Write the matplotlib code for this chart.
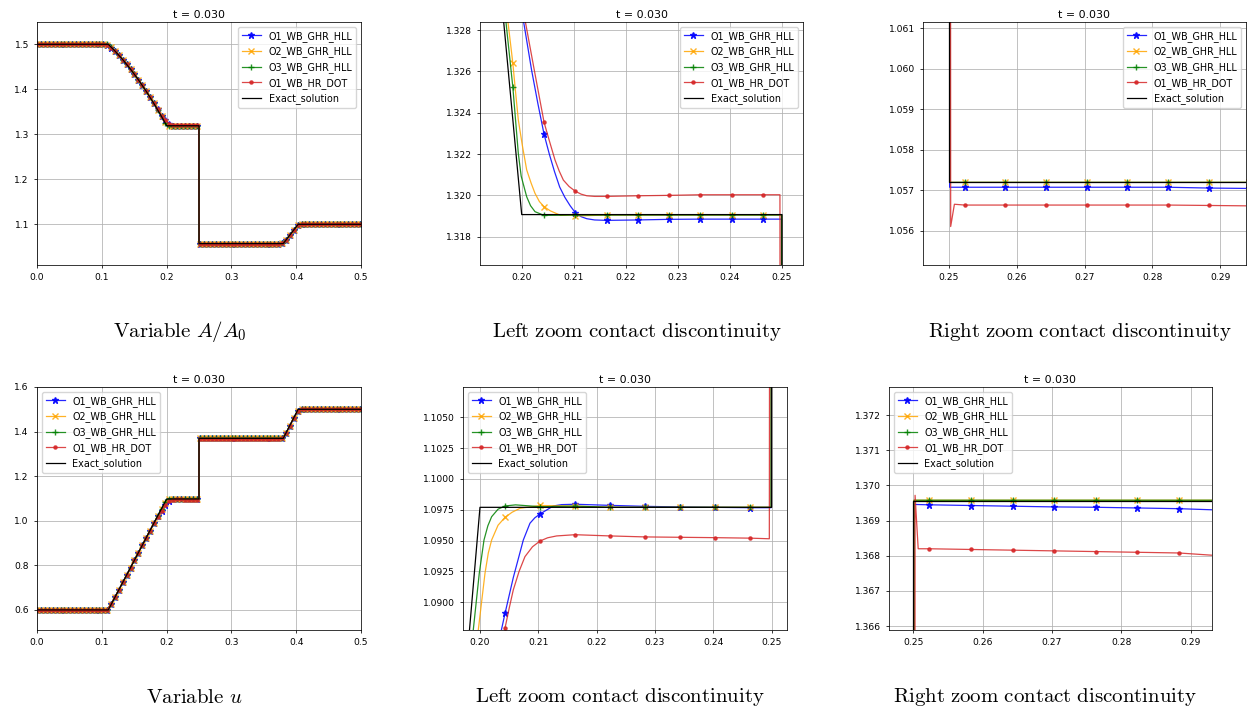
import numpy as np
import matplotlib.pyplot as plt

plt.rcParams['mathtext.fontset'] = 'cm'
plt.rcParams['font.size'] = 6.6
plt.rcParams['axes.titlesize'] = 7.9
plt.rcParams['axes.linewidth'] = 0.55
plt.rcParams['grid.linewidth'] = 0.55
plt.rcParams['xtick.major.size'] = 2.3
plt.rcParams['ytick.major.size'] = 2.3
plt.rcParams['xtick.major.width'] = 0.55
plt.rcParams['ytick.major.width'] = 0.55
plt.rcParams['legend.fontsize'] = 6.9

# positions of the plotted markers (every 6th output cell)
x_mark = 0.0003 + 0.006 * np.arange(84)

# ---------------- area ratio A/A0 ----------------
A_fan = [1.4759, 1.4661, 1.4557, 1.4449, 1.4335, 1.4216, 1.4091, 1.3962, 1.3827, 1.3687]
A_rise = [1.0650, 1.0762, 1.0873, 1.0980, 1.0998]

A_o1 = np.r_[[1.5] * 18, 1.4985, 1.4925, 1.4842, A_fan,
             1.3556, 1.3415, 1.3318, 1.32295, 1.31916, 1.31879, 1.31881, 1.31884, 1.31885, 1.31885, 1.31885,
             [1.05708] * 6, 1.05706, [1.05705] * 14, 1.0578, A_rise, [1.1] * 15]
A_o2 = np.r_[[1.5] * 18, 1.4993, 1.4935, 1.4850, A_fan,
             1.3546, 1.3405, 1.32639, 1.31945, 1.31900, [1.31905] * 6,
             [1.0572] * 21, 1.0576, A_rise, [1.1] * 15]
A_o3 = np.r_[[1.5] * 18, 1.4996, 1.4938, 1.4851, A_fan,
             1.3544, 1.3400, 1.32523, 1.31903, 1.31905, [1.31905] * 6,
             [1.0572] * 21, 1.0575, A_rise, [1.1] * 15]
A_dot = np.r_[[1.5] * 18, 1.4985, 1.4925, 1.4842, A_fan,
              1.3558, 1.3418, 1.3320, 1.32353, 1.32020, 1.31995, 1.31998, 1.32000, 1.32003, 1.32003, 1.32003,
              [1.05664] * 6, 1.05663, [1.05662] * 14, 1.0574, A_rise, [1.1] * 15]

# extra output cells between the markers (end of the fan and the contact)
A_o1_xe = [0.2003, 0.2019, 0.2031, 0.2053, 0.2063, 0.2073, 0.2083, 0.2093,
           0.2114, 0.2125, 0.2140, 0.2499, 0.2501]
A_o1_ye = [1.3285, 1.32606, 1.32445, 1.32200, 1.32115, 1.32040, 1.31990, 1.31950,
           1.31897, 1.31887, 1.31881, 1.31885, 1.05708]
A_o2_xe = [0.19731, 0.1988, 0.19935, 0.2001, 0.20096, 0.2018, 0.20255, 0.2034,
           0.2055, 0.2075, 0.2095, 0.2499, 0.2501]
A_o2_ye = [1.3285, 1.32505, 1.32365, 1.32245, 1.32123, 1.32060, 1.3201, 1.3197,
           1.31925, 1.31903, 1.31905, 1.31905, 1.0572]
A_o3_xe = [0.19693, 0.1988, 0.19935, 0.1999, 0.20096, 0.2017, 0.20256, 0.2499, 0.2501]
A_o3_ye = [1.3285, 1.3237, 1.32203, 1.32093, 1.31993, 1.3195, 1.31921, 1.31905, 1.0572]
A_dot_xe = [0.20063, 0.2025, 0.2053, 0.2064, 0.2072, 0.2080, 0.2091, 0.2114, 0.2125,
            0.2140, 0.2496, 0.25025, 0.2508]
A_dot_ye = [1.3285, 1.32595, 1.32265, 1.32171, 1.32118, 1.32074, 1.32043, 1.32006, 1.31998,
            1.31995, 1.32003, 1.05611, 1.05666]

A_ex_x = [0.0, 0.11, 0.1203, 0.1323, 0.1443, 0.1563, 0.1683, 0.1803, 0.1923, 0.1965, 0.2,
          0.25, 0.25, 0.38, 0.403, 0.5]
A_ex_y = [1.5, 1.5, 1.4852, 1.4661, 1.4449, 1.4216, 1.3962, 1.3687, 1.3392, 1.3285, 1.31907,
          1.31907, 1.0572, 1.0572, 1.1, 1.1]

# ---------------- velocity u ----------------
u_fan = [0.6901, 0.7233, 0.7565, 0.7897, 0.8229, 0.8560, 0.8892, 0.9224, 0.9556, 0.9888]
u_rise = [1.3930, 1.4270, 1.4610, 1.4935, 1.4995]

u_o1 = np.r_[[0.6] * 18, 0.6010, 0.6265, 0.6585, u_fan,
             1.0195, 1.0460, 1.0705, 1.08911, 1.09716, 1.09795, 1.09786, 1.09778, 1.09773, 1.09770, 1.09767,
             1.36945, 1.36943, 1.36941, 1.36939, 1.36938, 1.36936, 1.36934, [1.3693] * 14,
             1.3712, u_rise, [1.5] * 15]
u_o2 = np.r_[[0.6] * 18, 0.6004, 0.6250, 0.6575, u_fan,
             1.0217, 1.0540, 1.0814, 1.09689, 1.09785, 1.0978, [1.0977] * 5,
             [1.36958] * 21, 1.3708, u_rise, [1.5] * 15]
u_o3 = np.r_[[0.6] * 18, 0.6002, 0.6245, 0.6572, u_fan,
             1.0219, 1.0548, 1.0850, 1.09781, 1.09775, 1.0978, [1.0977] * 5,
             [1.36958] * 21, 1.3708, u_rise, [1.5] * 15]
u_dot = np.r_[[0.6] * 18, 0.6010, 0.6265, 0.6585, u_fan,
              1.0190, 1.0450, 1.0700, 1.08792, 1.09497, 1.09548, 1.09538, 1.09530, 1.09527, 1.09524, 1.09520,
              1.36820, 1.36818, 1.36816, 1.36814, 1.36812, 1.36810, 1.36808, [1.3680] * 14,
              1.3700, u_rise, [1.5] * 15]

u_o1_xe = [0.2009, 0.20355, 0.20571, 0.20743, 0.20857, 0.2094, 0.21257, 0.2140, 0.2499, 0.2501]
u_o1_ye = [1.0795, 1.08749, 1.0920, 1.09505, 1.09641, 1.09685, 1.09781, 1.09792, 1.09767, 1.36946]
u_o2_xe = [0.19971, 0.20086, 0.20143, 0.20200, 0.2031, 0.2055, 0.20686, 0.2499, 0.2501]
u_o2_ye = [1.08775, 1.09235, 1.0940, 1.09505, 1.09625, 1.0973, 1.09762, 1.0977, 1.36958]
u_o3_xe = [0.19885, 0.19988, 0.20069, 0.20135, 0.20200, 0.2031, 0.2061, 0.2499, 0.2501]
u_o3_ye = [1.08775, 1.09235, 1.09505, 1.0962, 1.09694, 1.09755, 1.0979, 1.0977, 1.36958]
u_dot_xe = [0.2013, 0.2050, 0.20571, 0.2067, 0.20771, 0.2090, 0.2116, 0.21314,
            0.2496, 0.25025, 0.2507]
u_dot_ye = [1.0797, 1.0895, 1.0910, 1.0925, 1.0937, 1.0945, 1.09523, 1.09538,
            1.09515, 1.36972, 1.36820]

u_ex_x = [0.0, 0.11, 0.2, 0.25, 0.25, 0.38, 0.403, 0.5]
u_ex_y = [0.6, 0.6, 1.0977, 1.0977, 1.36957, 1.36957, 1.5, 1.5]

labels = ['O1_WB_GHR_HLL', 'O2_WB_GHR_HLL', 'O3_WB_GHR_HLL', 'O1_WB_HR_DOT']
colors = ['blue', 'orange', 'green', 'tab:red']
markers = ['*', 'x', '+', '.']
msizes = [4.5, 5, 5, 4.5]

schemes_A = [(A_o1, A_o1_xe, A_o1_ye), (A_o2, A_o2_xe, A_o2_ye),
             (A_o3, A_o3_xe, A_o3_ye), (A_dot, A_dot_xe, A_dot_ye)]
schemes_u = [(u_o1, u_o1_xe, u_o1_ye), (u_o2, u_o2_xe, u_o2_ye),
             (u_o3, u_o3_xe, u_o3_ye), (u_dot, u_dot_xe, u_dot_ye)]


def merge(ym, xe, ye):
    # put marker cells and extra cells together, remember where the markers are
    x = np.concatenate([x_mark, xe])
    y = np.concatenate([ym, ye])
    order = np.argsort(x, kind='stable')
    marks = np.flatnonzero(order < len(x_mark))
    return x[order], y[order], list(marks)


def panel(ax, schemes, ex_x, ex_y, xlim, ylim, xstep, ystep, legloc):
    for (ym, xe, ye), lab, c, m, ms in zip(schemes, labels, colors, markers, msizes):
        x, y, marks = merge(ym, xe, ye)
        ax.plot(x, y, color=c, marker=m, markersize=ms, markevery=marks,
                linewidth=0.9, alpha=0.85, label=lab)
    ax.plot(ex_x, ex_y, color='black', linewidth=0.9, label='Exact_solution')
    ax.set_xlim(*xlim)
    ax.set_ylim(*ylim)
    ax.xaxis.set_major_locator(plt.MultipleLocator(xstep))
    ax.yaxis.set_major_locator(plt.MultipleLocator(ystep))
    ax.ticklabel_format(useOffset=False)
    ax.grid(True)
    ax.set_title('t = 0.030', pad=3)
    ax.legend(loc=legloc)


W, H = 1256, 711
fig = plt.figure(figsize=(W / 100, H / 100), dpi=100)


def add_axes(left, right, top, bottom):
    return fig.add_axes([left / W, 1 - bottom / H, (right - left) / W, (bottom - top) / H])


ax1 = add_axes(37, 361, 22, 265)
ax2 = add_axes(480, 803, 22, 265)
ax3 = add_axes(923, 1246, 22, 265)
ax4 = add_axes(37, 361, 387, 630)
ax5 = add_axes(463, 787, 387, 630)
ax6 = add_axes(889, 1212, 387, 630)

panel(ax1, schemes_A, A_ex_x, A_ex_y, (0, 0.5), (1.0096, 1.5496), 0.1, 0.1, 'upper right')
panel(ax2, schemes_A, A_ex_x, A_ex_y, (0.19199, 0.25403), (1.31663, 1.32839), 0.01, 0.002, 'upper right')
panel(ax3, schemes_A, A_ex_x, A_ex_y, (0.24617, 0.29379), (1.05516, 1.06116), 0.01, 0.001, 'upper right')
panel(ax4, schemes_u, u_ex_x, u_ex_y, (0, 0.5), (0.510, 1.6), 0.1, 0.2, 'upper left')
panel(ax5, schemes_u, u_ex_x, u_ex_y, (0.19709, 0.25263), (1.08775, 1.10746), 0.01, 0.0025, 'upper left')
panel(ax6, schemes_u, u_ex_x, u_ex_y, (0.24649, 0.29307), (1.36589, 1.37280), 0.01, 0.001, 'upper left')

cap = dict(ha='center', va='center', fontsize=15)
fig.text(180 / W, 1 - 332 / H, r'$\mathrm{Variable}\ A/A_0$', **cap)
fig.text(637 / W, 1 - 332 / H, r'$\mathrm{Left\ zoom\ contact\ discontinuity}$', **cap)
fig.text(1080 / W, 1 - 332 / H, r'$\mathrm{Right\ zoom\ contact\ discontinuity}$', **cap)
fig.text(194 / W, 1 - 697 / H, r'$\mathrm{Variable}\ u$', **cap)
fig.text(620 / W, 1 - 697 / H, r'$\mathrm{Left\ zoom\ contact\ discontinuity}$', **cap)
fig.text(1045 / W, 1 - 697 / H, r'$\mathrm{Right\ zoom\ contact\ discontinuity}$', **cap)

fig.savefig('out.png', dpi=100)
